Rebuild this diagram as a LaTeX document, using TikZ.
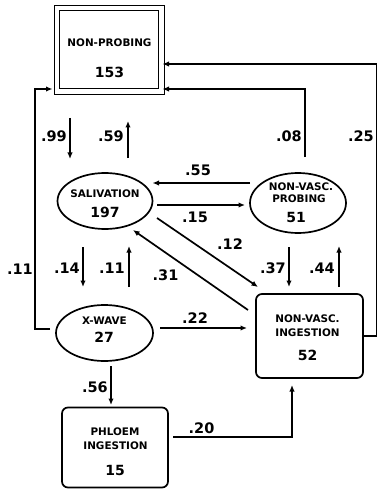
\documentclass[tikz,border=0pt]{standalone}
\usepackage{fontspec}
\setmainfont{DejaVu Sans}
\usetikzlibrary{arrows.meta,shapes.geometric}
\begin{document}
\begin{tikzpicture}[x=1pt,y=-1pt,
  arr/.style={-{Latex[length=6.5pt,width=5.5pt]}, line width=1.7pt},
  oval/.style={ellipse, draw, line width=1.7pt, inner sep=0pt, outer sep=0pt},
  rbox/.style={rectangle, rounded corners=6pt, draw, line width=1.7pt, inner sep=0pt, outer sep=0pt},
  txt/.style={font=\bfseries\fontsize{10.4}{11}\selectfont, inner sep=0pt},
  num/.style={font=\bfseries\fontsize{14}{14}\selectfont, inner sep=0pt},
  lab/.style={font=\bfseries\fontsize{14.5}{14.5}\selectfont, inner sep=0pt},
]
\useasboundingbox (0,0) rectangle (378,489);

% nodes
\node[draw, line width=1.7pt, minimum width=110pt, minimum height=89pt, inner sep=0pt, outer sep=0pt] (NP) at (109.5,50) {};
\draw[line width=1.6pt] ([shift={(5pt,-5pt)}]NP.north west) rectangle ([shift={(-6pt,6pt)}]NP.south east);
\node[txt] (NPa) at (109.5,43) {NON-PROBING};
\node[num] (NPb) at (109.5,72) {153};

\node[oval, minimum width=95pt, minimum height=56pt] (Sal) at (105,201) {};
\node[txt] (Sala) at (105,193.5) {SALIVATION};
\node[num] (Salb) at (105,212) {197};

\node[oval, minimum width=96pt, minimum height=60pt] (NVP) at (298,203) {};
\node[txt] (NVPa) at (301,186.5) {NON-VASC.};
\node[txt] (NVPb) at (299,198.5) {PROBING};
\node[num] (NVPc) at (296,217.5) {51};

\node[oval, minimum width=97pt, minimum height=56pt] (XW) at (104.5,333) {};
\node[txt] (XWa) at (104.5,321) {X-WAVE};
\node[num] (XWb) at (104,337.5) {27};

\node[rbox, minimum width=107pt, minimum height=84pt] (NVI) at (309.5,336) {};
\node[txt] (NVIa) at (307.5,318.5) {NON-VASC.};
\node[txt] (NVIb) at (307.5,333) {INGESTION};
\node[num] (NVIc) at (307.5,355) {52};

\node[rbox, minimum width=106pt, minimum height=80pt] (PI) at (115,447.5) {};
\node[txt] (PIa) at (115,432) {PHLOEM};
\node[txt] (PIb) at (115.5,446) {INGESTION};
\node[num] (PIc) at (115,470) {15};

% x positions for vertical connectors
\coordinate (c99) at (70,0);
\coordinate (c59) at (128,0);
\coordinate (c14) at (83,0);
\coordinate (c11) at (129,0);
\coordinate (c37) at (289,0);
\coordinate (c44) at (339,0);
\coordinate (c56) at (111,0);
\coordinate (c20) at (292,0);

% connectors
\draw[arr, shorten <=23.5pt, shorten >=14pt] (NP.south -| c99) -- (Sal.north -| c99);
\draw[arr, shorten <=15pt, shorten >=26.5pt] (Sal.north -| c59) -- (NP.south -| c59);
\draw[arr, shorten >=-2pt] ([shift={(7pt,16pt)}]NVP.north) |- ([yshift=-39pt]NP.east);
\draw[arr, shorten >=-2pt] (NVI.east) -- ++(13.5,0) |- ([yshift=-14pt]NP.east);
\draw[arr, shorten <=6pt, shorten >=2pt] ([yshift=4pt]XW.west) -- ++(-21,0) |- ([yshift=-39pt]NP.west);

\draw[arr] ([yshift=20pt]NVP.west) coordinate (s55) -- (Sal.east |- s55);
\draw[arr, shorten <=4.5pt, shorten >=5pt] ([yshift=-4pt]Sal.east) coordinate (s15) -- (NVP.west |- s15);
\draw[arr] ([shift={(4.5pt,-17pt)}]Sal.east) -- ([shift={(2pt,7pt)}]NVI.north west);
\draw[arr] ([shift={(-8pt,-16pt)}]NVI.north west) -- ([shift={(28pt,-1pt)}]Sal.south);

\draw[arr, shorten <=18pt, shorten >=18pt] (Sal.south -| c14) -- (XW.north -| c14);
\draw[arr, shorten <=18pt, shorten >=17pt] (XW.north -| c11) -- (Sal.south -| c11);
\draw[arr, shorten <=14pt, shorten >=7pt] (NVP.south -| c37) -- (NVI.north -| c37);
\draw[arr, shorten <=7pt, shorten >=13pt] (NVI.north -| c44) -- (NVP.south -| c44);

\draw[arr, shorten <=7pt, shorten >=9pt] ([yshift=5pt]XW.east) coordinate (s22) -- (NVI.west |- s22);
\draw[arr, shorten <=5pt, shorten >=2.5pt] (XW.south -| c56) -- (PI.north -| c56);
\draw[arr, shorten <=5pt, shorten >=7pt] ([yshift=10.5pt]PI.east) -| (NVI.south -| c20);

% labels
\node[lab, anchor=east] (l99) at (67,136.5) {.99};
\node[lab, anchor=east] (l59) at (124,136.5) {.59};
\node[lab, anchor=east] (l08) at (302,136.5) {.08};
\node[lab, anchor=east] (l25) at (374,136.5) {.25};
\node[lab] (l55) at (198,170.5) {.55};
\node[lab] (l15) at (195,217) {.15};
\node[lab] (l12) at (230,244) {.12};
\node[lab, anchor=east] (l11a) at (33,269) {.11};
\node[lab, anchor=east] (l14) at (80,268) {.14};
\node[lab, anchor=east] (l11b) at (125,268) {.11};
\node[lab] (l31) at (165.5,275) {.31};
\node[lab, anchor=east] (l37) at (286,268) {.37};
\node[lab, anchor=east] (l44) at (335,268) {.44};
\node[lab] (l22) at (195,318) {.22};
\node[lab, anchor=east] (l56) at (108,387) {.56};
\node[lab] (l20) at (201.5,428) {.20};
\end{tikzpicture}
\end{document}
